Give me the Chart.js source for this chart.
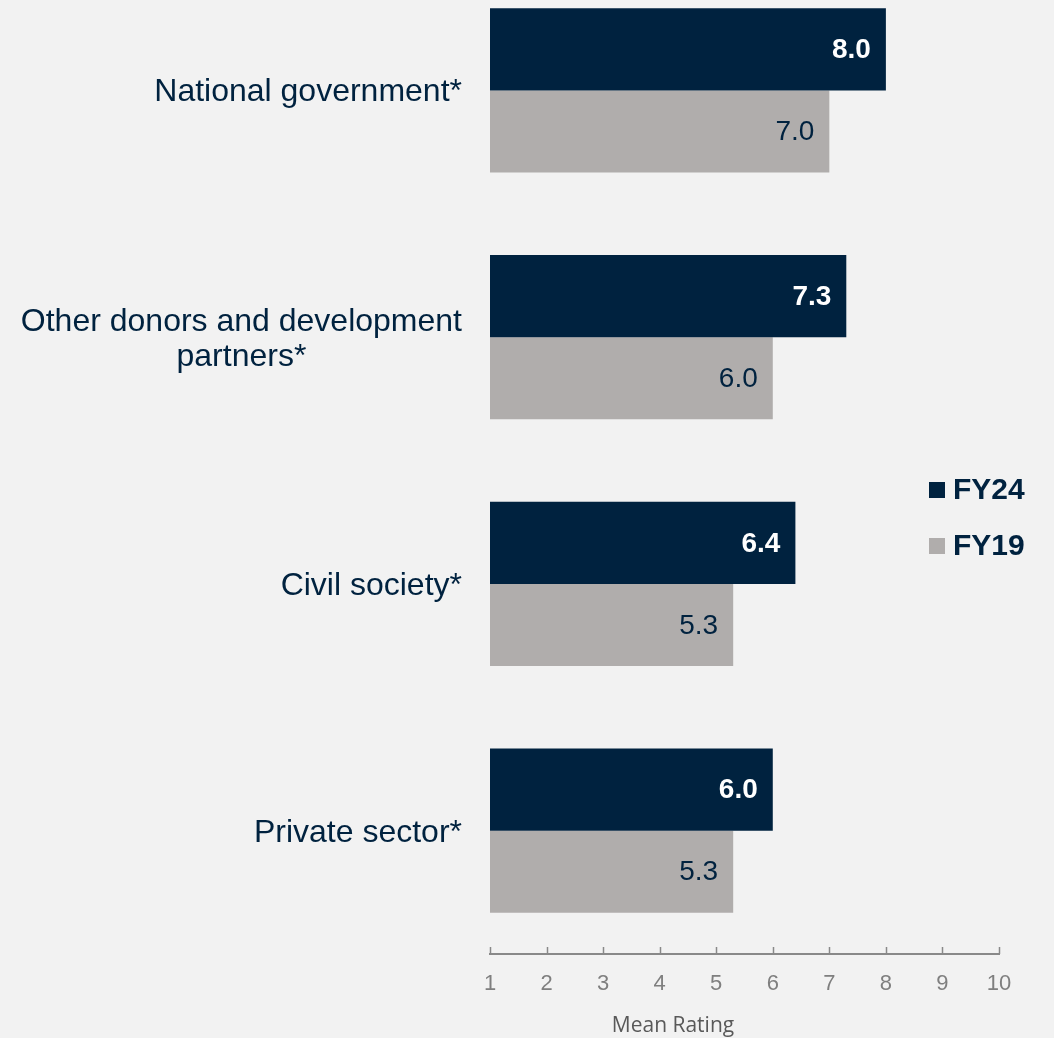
<!DOCTYPE html>
<html>
<head>
<meta charset="utf-8">
<script src="https://cdn.jsdelivr.net/npm/chart.js@4.4.1/dist/chart.umd.min.js"></script>
<style>
  html, body { margin: 0; padding: 0; background: #f2f2f2; overflow: hidden; }
  #wrap { position: relative; width: 1054px; height: 1038px; overflow: hidden; }
  #chart { position: absolute; left: 0; top: -33px; }
</style>
</head>
<body>
<div id="wrap"><canvas id="chart" width="1054" height="1071"></canvas></div>
<script>
// Chart data
const categories = [
  ['National government*'],
  ['Other donors and development', 'partners*'],
  ['Civil society*'],
  ['Private sector*']
];
const fy24 = [8.0, 7.3, 6.4, 6.0];
const fy19 = [7.0, 6.0, 5.3, 5.3];
const seriesNames = ['FY24', 'FY19'];
const xMin = 1;
const xMax = 10;
const axisTitle = 'Mean Rating';

const NAVY = '#00223f';
const GREY = '#b0adac';
const FONT = '"Liberation Sans", Arial, sans-serif';

// Draws category labels, value labels, upward tick marks, axis title and legend
const overlay = {
  id: 'overlay',
  afterDraw(chart) {
    const ctx = chart.ctx;
    const xs = chart.scales.x;
    const ys = chart.scales.y;
    ctx.save();

    // tick marks pointing up from the axis line
    ctx.strokeStyle = '#898989';
    ctx.lineWidth = 1.5;
    xs.ticks.forEach((t) => {
      const x = Math.round(xs.getPixelForValue(t.value)) + 0.5;
      ctx.beginPath();
      ctx.moveTo(x, xs.top);
      ctx.lineTo(x, xs.top - 7);
      ctx.stroke();
    });

    // category labels (block right-aligned, lines centred inside block)
    ctx.font = '32px ' + FONT;
    ctx.fillStyle = NAVY;
    ctx.textBaseline = 'alphabetic';
    ctx.textAlign = 'center';
    const right = 462;
    const lh = 35;
    categories.forEach((lines, i) => {
      const cy = ys.getPixelForValue(i);
      const w = Math.max(...lines.map((l) => ctx.measureText(l).width));
      const cx = right - w / 2;
      const first = cy + 11 - (lines.length - 1) * lh / 2;
      lines.forEach((l, j) => ctx.fillText(l, cx, first + j * lh));
    });

    // value labels inside bar ends
    ctx.textAlign = 'right';
    ctx.textBaseline = 'middle';
    chart.data.datasets.forEach((ds, di) => {
      const meta = chart.getDatasetMeta(di);
      ctx.font = (di === 0 ? 'bold ' : '') + '28px ' + FONT;
      ctx.fillStyle = di === 0 ? '#ffffff' : NAVY;
      meta.data.forEach((bar, i) => {
        ctx.fillText(ds.data[i].toFixed(1), bar.x - 15, bar.y + 1);
      });
    });

    // axis title
    ctx.font = '21px "Open Sans", sans-serif';
    ctx.fillStyle = '#595959';
    ctx.textAlign = 'center';
    ctx.fillText(axisTitle, 673, xs.bottom - 12);

    // legend
    ctx.textAlign = 'left';
    ctx.font = 'bold 30px ' + FONT;
    chart.data.datasets.forEach((ds, di) => {
      const y = 523 + di * 56;
      ctx.fillStyle = ds.backgroundColor;
      ctx.fillRect(929, y - 8, 16, 16);
      ctx.fillStyle = NAVY;
      ctx.fillText(ds.label, 953, y + 1);
    });

    ctx.restore();
  }
};

const ctx = document.getElementById('chart').getContext('2d');
const chart = new Chart(ctx, {
  type: 'bar',
  data: {
    labels: categories,
    datasets: [
      { label: seriesNames[0], data: fy24, backgroundColor: NAVY, base: xMin },
      { label: seriesNames[1], data: fy19, backgroundColor: GREY, base: xMin }
    ]
  },
  options: {
    indexAxis: 'y',
    responsive: false,
    animation: false,
    devicePixelRatio: 1,
    layout: { padding: { left: 0, right: 55, top: 0, bottom: 0 } },
    datasets: { bar: { barPercentage: 1, categoryPercentage: 0.665 } },
    plugins: { legend: { display: false }, tooltip: { enabled: false } },
    scales: {
      x: {
        min: xMin,
        max: xMax,
        grid: { display: false, drawTicks: false },
        border: { display: true, color: '#898989', width: 2 },
        ticks: {
          stepSize: 1,
          padding: 17,
          color: '#7f7f7f',
          font: { family: FONT, size: 22 }
        },
        afterFit: (s) => { s.height = 84; }
      },
      y: {
        grid: { display: false },
        border: { display: false },
        ticks: { display: false },
        afterFit: (s) => { s.width = 490; }
      }
    }
  },
  plugins: [overlay]
});
</script>
</body>
</html>
